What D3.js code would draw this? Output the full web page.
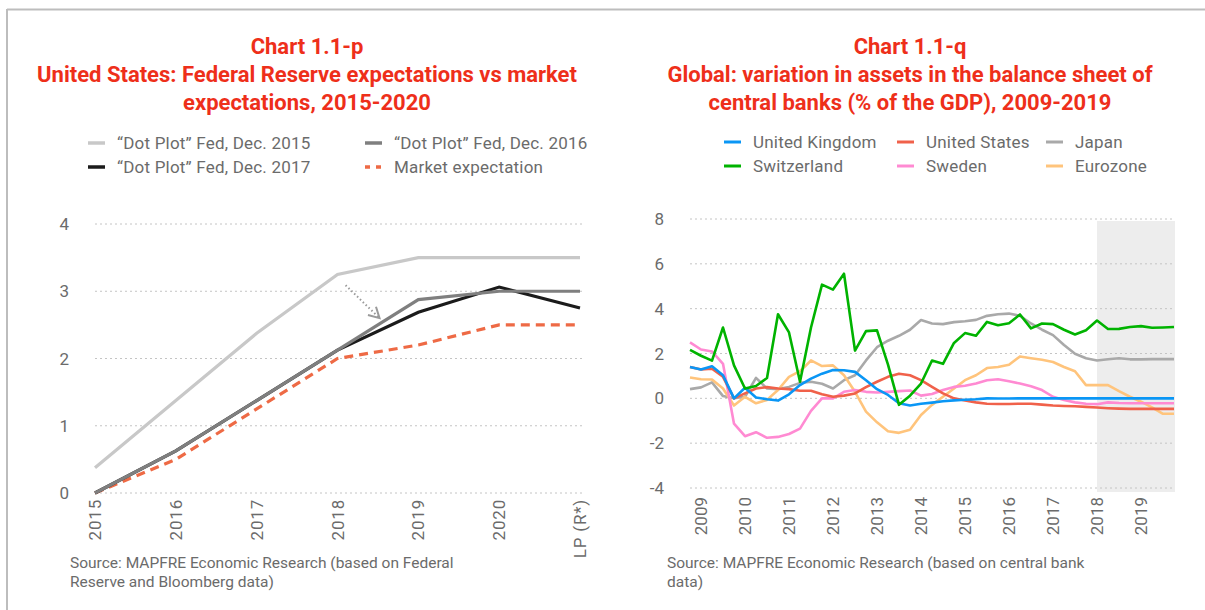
<!DOCTYPE html>
<html>
<head>
<meta charset="utf-8">
<script src="https://cdn.jsdelivr.net/npm/d3@7"></script>
<style>
  body { margin: 0; background: #fff; }
  svg { display: block; font-family: Roboto, "Noto Sans", sans-serif; }
  .title { fill: #ee2f1a; font-weight: 700; font-size: 22px; text-anchor: middle; }
  .lbl { fill: #6b6b6b; font-size: 17px; letter-spacing: 0.2px; }
  .tick { fill: #6b6b6b; font-size: 17px; }
  .src { fill: #6b6b6b; font-size: 15.5px; }
</style>
</head>
<body>
<div id="chart"></div>
<script>
// ---- data: left chart (Fed dot plots vs market) ----
var fedCats = ["2015", "2016", "2017", "2018", "2019", "2020", "LP (R*)"];
var dot2015 = [0.375, 1.375, 2.375, 3.25, 3.5, 3.5, 3.5];
var dot2016 = [0, 0.625, 1.375, 2.125, 2.875, 3.0, 3.0];
var dot2017 = [0, 0.625, 1.375, 2.125, 2.6875, 3.0625, 2.75];
var marketExp = [0, 0.5, 1.25, 2.0, 2.2, 2.5, 2.5];
var fedTicks = [0, 1, 2, 3, 4];

// ---- data: right chart (central bank assets, quarterly 2008 Q4 - 2019 Q4) ----
var quarterStart = 2008.75;
var years = [2009, 2010, 2011, 2012, 2013, 2014, 2015, 2016, 2017, 2018, 2019];
var cbTicks = [-4, -2, 0, 2, 4, 6, 8];
var ukAssets = [1.4, 1.29, 1.43, 1.03, 0.0, 0.47, 0.04, -0.04, -0.1, 0.18, 0.59, 0.88, 1.1, 1.26, 1.25,
  1.18, 0.81, 0.41, 0.15, -0.22, -0.32, -0.24, -0.19, -0.13, -0.09, -0.06, -0.04, 0.0, -0.01, -0.01,
  0.0, 0.0, 0.0, 0.0, 0.0, 0.0, 0.0, 0.0, 0.0, 0.0, 0.0, 0.0, 0.0, 0.0, 0.0];
var usAssets = [1.4, 1.29, 1.32, 0.96, 0.0, 0.22, 0.44, 0.5, 0.44, 0.41, 0.34, 0.34, 0.18, 0.07, 0.12,
  0.22, 0.5, 0.74, 0.96, 1.1, 1.03, 0.81, 0.51, 0.22, 0.0, -0.1, -0.18, -0.24, -0.25, -0.25,
  -0.24, -0.24, -0.28, -0.32, -0.34, -0.35, -0.38, -0.41, -0.44, -0.46, -0.47, -0.47, -0.47, -0.47, -0.47];
var japanAssets = [0.41, 0.49, 0.71, 0.1, 0.0, 0.07, 0.91, 0.44, 0.41, 0.51, 0.69, 0.74, 0.65, 0.44, 0.81,
  1.03, 1.69, 2.28, 2.57, 2.79, 3.06, 3.49, 3.34, 3.31, 3.4, 3.44, 3.5, 3.68, 3.75, 3.78,
  3.68, 3.34, 3.06, 2.82, 2.38, 1.99, 1.79, 1.69, 1.74, 1.79, 1.74, 1.74, 1.75, 1.75, 1.75];
var swissAssets = [2.16, 1.9, 1.68, 3.16, 1.47, 0.44, 0.55, 0.91, 3.75, 2.94, 0.74, 3.16, 5.07, 4.85, 5.56,
  2.13, 3.0, 3.03, 1.5, -0.29, 0.12, 0.66, 1.69, 1.54, 2.47, 2.91, 2.79, 3.41, 3.26, 3.35,
  3.74, 3.12, 3.34, 3.31, 3.06, 2.85, 3.04, 3.47, 3.09, 3.1, 3.18, 3.22, 3.15, 3.16, 3.18];
var swedenAssets = [2.5, 2.18, 2.09, 1.54, -1.13, -1.69, -1.51, -1.76, -1.72, -1.59, -1.35, -0.56, 0.0, 0.0, 0.29,
  0.37, 0.29, 0.26, 0.29, 0.32, 0.35, 0.12, 0.19, 0.37, 0.51, 0.56, 0.66, 0.81, 0.85, 0.76,
  0.66, 0.54, 0.37, 0.07, -0.07, -0.18, -0.24, -0.26, -0.18, -0.21, -0.22, -0.22, -0.22, -0.22, -0.22];
var euroAssets = [0.93, 0.85, 0.84, 0.44, -0.32, 0.07, -0.22, -0.07, 0.37, 0.96, 1.21, 1.69, 1.44, 1.47, 1.03,
  0.29, -0.59, -1.07, -1.47, -1.54, -1.4, -0.74, -0.29, 0.07, 0.44, 0.81, 1.03, 1.35, 1.4, 1.5,
  1.87, 1.79, 1.72, 1.62, 1.4, 1.21, 0.59, 0.59, 0.59, 0.32, 0.07, -0.15, -0.4, -0.69, -0.69];

var W = 1205, H = 610;
var svg = d3.select("#chart").append("svg").attr("width", W).attr("height", H);

// frame (top + left rule)
svg.append("line").attr("x1", 7).attr("x2", W).attr("y1", 9.5).attr("y2", 9.5)
  .attr("stroke", "#bdbdbd").attr("stroke-width", 2);
svg.append("line").attr("x1", 7).attr("x2", 7).attr("y1", 9).attr("y2", H)
  .attr("stroke", "#bdbdbd").attr("stroke-width", 2);

function title(cx, lines) {
  lines.forEach(function(t, i) {
    svg.append("text").attr("class", "title").attr("x", cx).attr("y", 54 + i * 28).text(t);
  });
}
title(307, ["Chart 1.1-p", "United States: Federal Reserve expectations vs market", "expectations, 2015-2020"]);
title(910, ["Chart 1.1-q", "Global: variation in assets in the balance sheet of", "central banks (% of the GDP), 2009-2019"]);

function legendItem(x, y, color, label, dash, width) {
  svg.append("line").attr("x1", x).attr("x2", x + 17).attr("y1", y).attr("y2", y)
    .attr("stroke", color).attr("stroke-width", width || 3.5)
    .attr("stroke-dasharray", dash || null);
  svg.append("text").attr("class", "lbl").attr("x", x + 29).attr("y", y + 6).text(label);
}

// ================= left chart =================
var xL = d3.scalePoint().domain(fedCats).range([95, 580]);
var yL = d3.scaleLinear().domain([0, 4]).range([493, 224]);

svg.append("g").selectAll("line").data(fedTicks).join("line")
  .attr("x1", 95).attr("x2", 583)
  .attr("y1", function(d) { return yL(d); }).attr("y2", function(d) { return yL(d); })
  .attr("stroke", "#c4c4c4").attr("stroke-width", 1).attr("stroke-dasharray", "2,3");
svg.append("g").selectAll("text").data(fedTicks).join("text")
  .attr("class", "tick").attr("x", 69).attr("y", function(d) { return yL(d) + 6; })
  .attr("text-anchor", "end").text(function(d) { return d; });
svg.append("g").selectAll("text").data(fedCats).join("text")
  .attr("class", "tick").attr("text-anchor", "end").attr("letter-spacing", "0.8px")
  .attr("transform", function(d) { return "translate(" + (xL(d) + 6) + ",499) rotate(-90)"; })
  .text(function(d) { return d; });

var lineL = d3.line().x(function(d, i) { return xL(fedCats[i]); }).y(function(d) { return yL(d); });
var leftSeries = [
  { v: marketExp, c: "#ee6a45", dash: "9,6" },
  { v: dot2015, c: "#c8c8c8" },
  { v: dot2017, c: "#1b1b1b" },
  { v: dot2016, c: "#7f7f7f" }
];
leftSeries.forEach(function(s) {
  svg.append("path").attr("d", lineL(s.v)).attr("fill", "none")
    .attr("stroke", s.c).attr("stroke-width", 3.2).attr("stroke-dasharray", s.dash || null);
});

// dotted arrow (2015 -> 2016 revision)
var xIdx = d3.scaleLinear().domain([0, 6]).range([95, 580]);
var a0 = [xIdx(3.1), yL(3.09)], a1 = [xIdx(3.52), yL(2.6)];
svg.append("line").attr("x1", a0[0]).attr("y1", a0[1]).attr("x2", a1[0]).attr("y2", a1[1])
  .attr("stroke", "#9a9a9a").attr("stroke-width", 2).attr("stroke-dasharray", "1.5,2.5");
var ang = Math.atan2(a1[1] - a0[1], a1[0] - a0[0]);
var hl = 12;
svg.append("path").attr("fill", "none").attr("stroke", "#9a9a9a").attr("stroke-width", 2)
  .attr("d", "M" + (a1[0] - hl * Math.cos(ang - 0.5)) + "," + (a1[1] - hl * Math.sin(ang - 0.5)) +
    "L" + a1[0] + "," + a1[1] +
    "L" + (a1[0] - hl * Math.cos(ang + 0.5)) + "," + (a1[1] - hl * Math.sin(ang + 0.5)));

legendItem(88, 143, "#c8c8c8", "\u201cDot Plot\u201d Fed, Dec. 2015");
legendItem(365, 143, "#7f7f7f", "\u201cDot Plot\u201d Fed, Dec. 2016");
legendItem(88, 167, "#1b1b1b", "\u201cDot Plot\u201d Fed, Dec. 2017");
legendItem(365, 167, "#ee6a45", "Market expectation", "5,6");

svg.append("text").attr("class", "src").attr("x", 70).attr("y", 568)
  .text("Source: MAPFRE Economic Research (based on Federal");
svg.append("text").attr("class", "src").attr("x", 70).attr("y", 587)
  .text("Reserve and Bloomberg data)");

// ================= right chart =================
var xR = d3.scaleLinear().domain([quarterStart, 2019.75]).range([690, 1174]);
var yR = d3.scaleLinear().domain([-4, 8]).range([488, 219]);

svg.append("rect").attr("x", xR(2018)).attr("y", yR(8) + 2)
  .attr("width", xR(2019.75) - xR(2018) + 1).attr("height", yR(-4) - yR(8) + 2)
  .attr("fill", "#ededed");

svg.append("g").selectAll("line").data(cbTicks).join("line")
  .attr("x1", 690).attr("x2", 1175)
  .attr("y1", function(d) { return yR(d); }).attr("y2", function(d) { return yR(d); })
  .attr("stroke", "#c4c4c4").attr("stroke-width", 1).attr("stroke-dasharray", "2,3");
svg.append("g").selectAll("text").data(cbTicks).join("text")
  .attr("class", "tick").attr("x", 664).attr("y", function(d) { return yR(d) + 6; })
  .attr("text-anchor", "end").text(function(d) { return d; });
svg.append("g").selectAll("text").data(years).join("text")
  .attr("class", "tick").attr("text-anchor", "end")
  .attr("transform", function(d) { return "translate(" + (xR(d) + 6) + ",497) rotate(-90)"; })
  .text(function(d) { return d; });

var lineR = d3.line().x(function(d, i) { return xR(quarterStart + i * 0.25); }).y(function(d) { return yR(d); });
var rightSeries = [
  { v: japanAssets, c: "#a9a9a9" },
  { v: euroAssets, c: "#ffc47c" },
  { v: swedenAssets, c: "#ff8ad2" },
  { v: usAssets, c: "#f0614a" },
  { v: ukAssets, c: "#0a96f5" },
  { v: swissAssets, c: "#00b300" }
];
rightSeries.forEach(function(s) {
  svg.append("path").attr("d", lineR(s.v)).attr("fill", "none")
    .attr("stroke", s.c).attr("stroke-width", 2.6).attr("stroke-linejoin", "round");
});

legendItem(724, 142, "#0a96f5", "United Kingdom", null, 3);
legendItem(897, 142, "#f0614a", "United States", null, 3);
legendItem(1046, 142, "#a9a9a9", "Japan", null, 3);
legendItem(724, 166, "#00b300", "Switzerland", null, 3);
legendItem(897, 166, "#ff8ad2", "Sweden", null, 3);
legendItem(1046, 166, "#ffc47c", "Eurozone", null, 3);

svg.append("text").attr("class", "src").attr("x", 667).attr("y", 568)
  .text("Source: MAPFRE Economic Research (based on central bank");
svg.append("text").attr("class", "src").attr("x", 667).attr("y", 587)
  .text("data)");
</script>
</body>
</html>
